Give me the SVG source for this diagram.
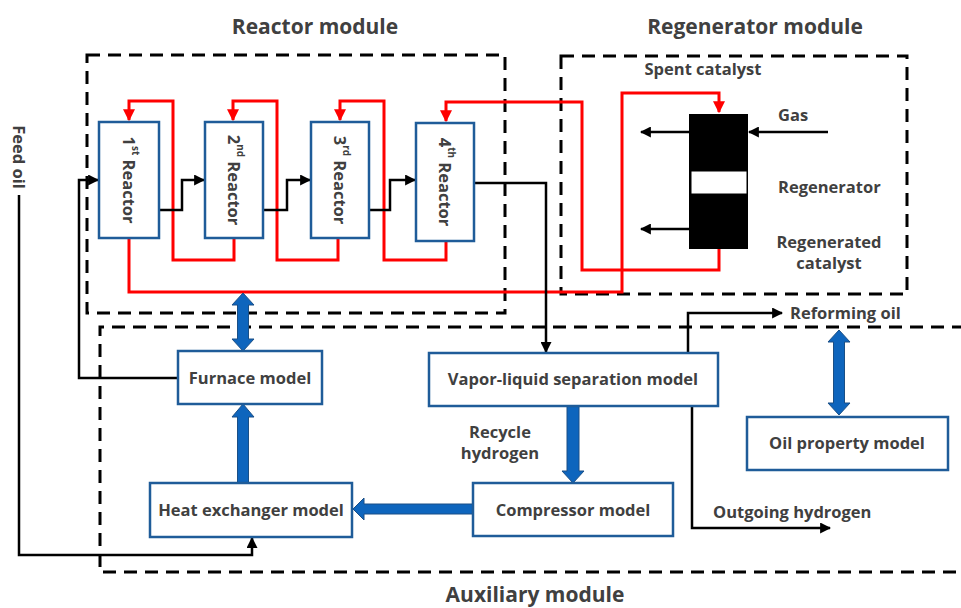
<svg xmlns="http://www.w3.org/2000/svg" width="961" height="608" viewBox="0 0 961 608">
<defs>
<style>
.t{font-family:"Open Sans","Noto Sans","DejaVu Sans",sans-serif;font-weight:bold;fill:#404040;font-size:16.5px}
.title{font-size:21px}
.box{fill:#fff;stroke:#1f5c99;stroke-width:2.5}
.dash{fill:none;stroke:#000;stroke-width:3;stroke-dasharray:13 8}
.red{fill:none;stroke:#ff0000;stroke-width:3}
.blk{fill:none;stroke:#000;stroke-width:2.5}
.barrow{fill:#0e65bd;stroke:#1a4f86;stroke-width:1}
</style>
<marker id="ah" viewBox="0 0 10 10" refX="9" refY="5" markerWidth="4.4" markerHeight="4.4" orient="auto" markerUnits="strokeWidth">
<path d="M0,0 L10,5 L0,10 z" fill="#000"/>
</marker>
<marker id="rh" viewBox="0 0 10 10" refX="9" refY="5" markerWidth="4" markerHeight="4" orient="auto" markerUnits="strokeWidth">
<path d="M0,0 L10,5 L0,10 z" fill="#ff0000"/>
</marker>
</defs>
<rect width="961" height="608" fill="#fff"/>

<g id="modules">
<rect class="dash" x="87" y="55" width="418" height="258"/>
<rect class="dash" x="561" y="56" width="346" height="238"/>
<path class="dash" d="M965,327 H100 V572 H965"/>
<text class="t title" x="315" y="34" text-anchor="middle">Reactor module</text>
<text class="t title" x="755" y="34" text-anchor="middle">Regenerator module</text>
<text class="t title" x="535" y="602" text-anchor="middle">Auxiliary module</text>
</g>

<g id="connectors">
<path class="red" d="M719,249 V270 H582 V102 H446 V121" marker-end="url(#rh)"/>
<path class="red" d="M446,241 V260 H384 V101 H340 V120" marker-end="url(#rh)"/>
<path class="red" d="M338,238 V260 H277 V101 H233 V120" marker-end="url(#rh)"/>
<path class="red" d="M234,238 V260 H173 V101 H129 V120" marker-end="url(#rh)"/>
<path class="red" d="M129,238 V292 H622 V93 H719 V112" marker-end="url(#rh)"/>
<path class="blk" d="M159,210 H182 V180 H204" marker-end="url(#ah)"/>
<path class="blk" d="M263,210 H287 V180 H310" marker-end="url(#ah)"/>
<path class="blk" d="M369,210 H390 V180 H415" marker-end="url(#ah)"/>
<path class="blk" d="M474,183 H546 V352" marker-end="url(#ah)"/>
<path class="blk" d="M178,378 H79 V180 H98" marker-end="url(#ah)"/>
<path class="blk" d="M19,195 V555 H252 V538" marker-end="url(#ah)"/>
<path class="blk" d="M688,353 V313 H782" marker-end="url(#ah)"/>
<path class="blk" d="M692,406 V528 H830" marker-end="url(#ah)"/>
<path class="blk" d="M689,132 H641" marker-end="url(#ah)"/>
<path class="blk" d="M689,229 H641" marker-end="url(#ah)"/>
<path class="blk" d="M828,132 H749" marker-end="url(#ah)"/>
<polygon class="barrow" points="243,293 254,305 248.5,305 248.5,339 254,339 243,351 232,339 237.5,339 237.5,305 232,305"/>
<polygon class="barrow" points="243,404 254,417 248.5,417 248.5,483 237.5,483 237.5,417 232,417"/>
<polygon class="barrow" points="573,483 584,471 579,471 579,406 567,406 567,471 562,471"/>
<polygon class="barrow" points="353,509 364,498 364,504 473,504 473,514 364,514 364,520"/>
<polygon class="barrow" points="839,330 850,342 844.5,342 844.5,403 850,403 839,415 828,403 833.5,403 833.5,342 828,342"/>
</g>

<g id="reactor1">
<rect class="box" x="99" y="122" width="60" height="116"/>
<text class="t" transform="translate(129,180) rotate(90)" text-anchor="middle" dominant-baseline="central">1<tspan font-size="10" baseline-shift="super">st</tspan> Reactor</text>
</g>
<g id="reactor2">
<rect class="box" x="205" y="122" width="58" height="116"/>
<text class="t" transform="translate(234,180) rotate(90)" text-anchor="middle" dominant-baseline="central">2<tspan font-size="10" baseline-shift="super">nd</tspan> Reactor</text>
</g>
<g id="reactor3">
<rect class="box" x="311" y="122" width="58" height="116"/>
<text class="t" transform="translate(340,180) rotate(90)" text-anchor="middle" dominant-baseline="central">3<tspan font-size="10" baseline-shift="super">rd</tspan> Reactor</text>
</g>
<g id="reactor4">
<rect class="box" x="416" y="123" width="58" height="118"/>
<text class="t" transform="translate(445,182) rotate(90)" text-anchor="middle" dominant-baseline="central">4<tspan font-size="10" baseline-shift="super">th</tspan> Reactor</text>
</g>

<g id="regenerator">
<rect x="689" y="114" width="59" height="135" fill="#000"/>
<rect x="691" y="171" width="56" height="23" fill="#fff" stroke="#000" stroke-width="1"/>
<text class="t" x="703" y="75" text-anchor="middle">Spent catalyst</text>
<text class="t" x="778" y="121">Gas</text>
<text class="t" x="778" y="193">Regenerator</text>
<text class="t" x="829" y="248" text-anchor="middle">Regenerated</text>
<text class="t" x="829" y="269" text-anchor="middle">catalyst</text>
</g>

<g id="feed-oil">
<text class="t" transform="translate(19,157) rotate(90)" text-anchor="middle" dominant-baseline="central">Feed oil</text>
</g>

<g id="furnace">
<rect class="box" x="178" y="351" width="144" height="53"/>
<text class="t" x="250" y="384" text-anchor="middle">Furnace model</text>
</g>
<g id="heat-exchanger">
<rect class="box" x="150" y="483" width="202" height="54"/>
<text class="t" x="251" y="516" text-anchor="middle">Heat exchanger model</text>
</g>
<g id="compressor">
<rect class="box" x="473" y="483" width="200" height="53"/>
<text class="t" x="573" y="516" text-anchor="middle">Compressor model</text>
</g>
<g id="vapor-liquid">
<rect class="box" x="429" y="353" width="289" height="53"/>
<text class="t" x="573" y="385" text-anchor="middle">Vapor-liquid separation model</text>
</g>
<g id="oil-property">
<rect class="box" x="747" y="417" width="201" height="53"/>
<text class="t" x="847" y="449" text-anchor="middle">Oil property model</text>
</g>

<g id="labels">
<text class="t" x="500" y="438" text-anchor="middle">Recycle</text>
<text class="t" x="500" y="459" text-anchor="middle">hydrogen</text>
<text class="t" x="790" y="319">Reforming oil</text>
<text class="t" x="713" y="518">Outgoing hydrogen</text>
</g>
</svg>
